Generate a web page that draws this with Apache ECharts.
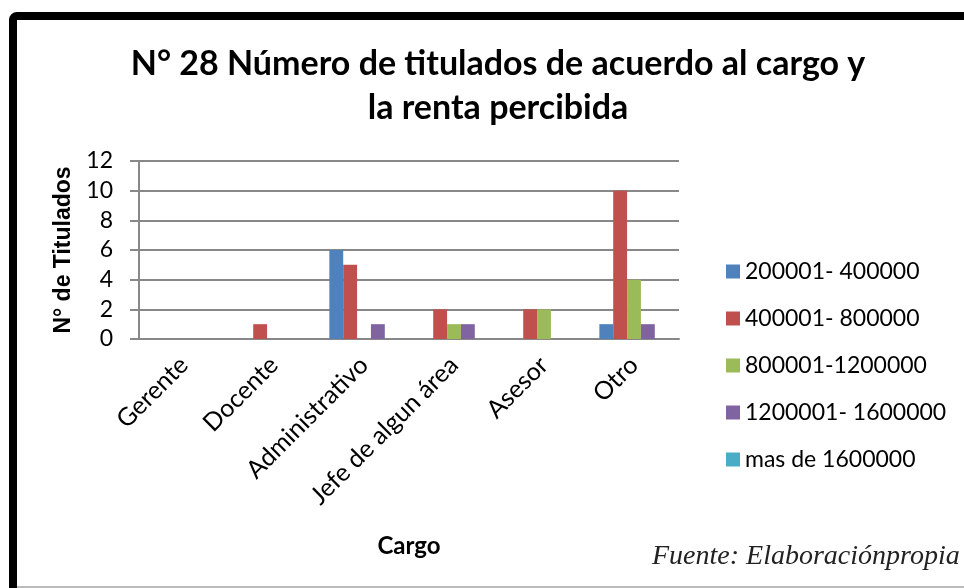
<!DOCTYPE html>
<html>
<head>
<meta charset="utf-8">
<script src="https://cdn.jsdelivr.net/npm/echarts@6/dist/echarts.min.js"></script>
<style>
html,body{margin:0;padding:0;background:#fff;}
#main{width:964px;height:588px;}
</style>
</head>
<body>
<div id="main"></div>
<script>
// datos del grafico
var cargos = ['Gerente', 'Docente', 'Administrativo', 'Jefe de algun área', 'Asesor', 'Otro'];
var rangos = ['200001- 400000', '400001- 800000', '800001-1200000', '1200001- 1600000', 'mas de 1600000'];
var renta1 = [0, 0, 6, 0, 0, 1];
var renta2 = [0, 1, 5, 2, 2, 10];
var renta3 = [0, 0, 0, 1, 2, 4];
var renta4 = [0, 0, 1, 1, 0, 1];
var renta5 = [0, 0, 0, 0, 0, 0];
var yTicks = [0, 2, 4, 6, 8, 10, 12];
var colores = ['#4F81BD', '#C0504D', '#9BBB59', '#8064A2', '#4BACC6'];

var valores = [renta1, renta2, renta3, renta4, renta5];
var series = [];
for (var i = 0; i < rangos.length; i++) {
    series.push({
        name: rangos[i],
        type: 'bar',
        data: valores[i],
        barGap: '0%',
        barCategoryGap: '23%',
        itemStyle: {color: colores[i]}
    });
}

var myChart = echarts.init(document.getElementById('main'));
var option = {
    animation: false,
    color: colores,
    textStyle: {fontFamily: 'Lato'},
    title: {
        text: 'N° 28 Número de titulados de acuerdo al cargo y\nla renta percibida',
        left: 493,
        top: 37,
        textAlign: 'center',
        textStyle: {fontFamily: 'Lato', fontWeight: 'bold', fontSize: 34, lineHeight: 44, color: '#000'}
    },
    legend: {
        orient: 'vertical',
        left: 721,
        top: 255,
        itemWidth: 14,
        itemHeight: 14,
        itemGap: 24,
        icon: 'rect',
        textStyle: {fontFamily: 'Lato', fontSize: 23, color: '#000'},
        data: rangos
    },
    grid: {left: 139, right: 285, top: 161, bottom: 249},
    xAxis: {
        type: 'category',
        data: cargos,
        name: 'Cargo',
        nameLocation: 'middle',
        nameGap: 195,
        nameTextStyle: {fontFamily: 'Lato', fontWeight: 'bold', fontSize: 24, color: '#000'},
        axisLine: {lineStyle: {color: '#888', width: 2}},
        axisTick: {show: false},
        axisLabel: {rotate: 45, fontSize: 25, color: '#000', margin: 22, fontFamily: 'Lato'}
    },
    yAxis: {
        type: 'value',
        min: 0,
        max: 12,
        interval: 2,
        name: 'N° de Titulados',
        nameLocation: 'middle',
        nameGap: 62,
        nameTextStyle: {fontFamily: 'Liberation Sans', fontWeight: 'bold', fontSize: 23, color: '#000'},
        axisLine: {show: true, lineStyle: {color: '#888', width: 2}},
        axisTick: {show: true, length: 9, lineStyle: {color: '#888', width: 2}},
        splitLine: {lineStyle: {color: '#888', width: 2}},
        axisLabel: {fontSize: 23, color: '#000', margin: 26, fontFamily: 'Lato',
            formatter: function (v) { return yTicks.indexOf(v) >= 0 ? String(v) : ''; }}
    },
    graphic: [
        {type: 'rect', shape: {x: 13, y: 16, width: 1000, height: 640, r: 4},
            style: {fill: 'none', stroke: '#000', lineWidth: 8}},
        {type: 'line', shape: {x1: 17, y1: 587, x2: 964, y2: 587},
            style: {stroke: '#bbb', lineWidth: 2}},
        {type: 'text', left: 652, top: 543,
            style: {text: 'Fuente: Elaboraciónpropia', fontFamily: 'Liberation Serif', fontStyle: 'italic', fontSize: 28, fill: '#222'}}
    ],
    series: series
};
myChart.setOption(option);
</script>
</body>
</html>
